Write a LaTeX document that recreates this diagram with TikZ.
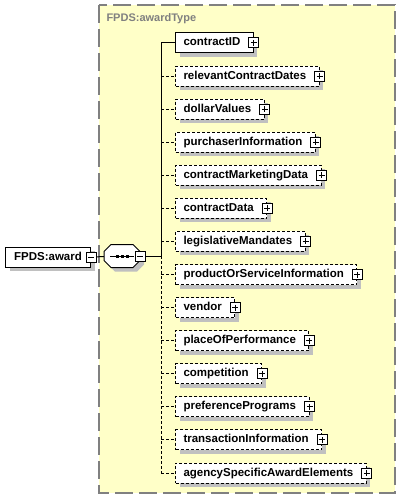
\documentclass[tikz,border=0pt]{standalone}
\usepackage{fontspec}
\setmainfont{Liberation Sans}
\usetikzlibrary{shadows}
\definecolor{fondo}{RGB}{255,255,200}
\definecolor{borde}{RGB}{128,128,128}
\definecolor{sombra}{RGB}{192,192,192}
\tikzset{
  sombreado/.style={drop shadow={shadow xshift=4pt, shadow yshift=-4pt, fill=sombra, opacity=1}},
  caja/.style={draw, fill=white, line width=1pt, inner ysep=0pt, minimum height=20pt,
    text height=8.5pt, text depth=2.5pt, font=\fontsize{11.5}{12}\selectfont\bfseries, sombreado},
  elem/.style={caja, anchor=west, inner xsep=8pt, execute at end node={\hspace*{5pt}}},
  opcional/.style={elem, dash pattern=on 3pt off 2pt},
  icono/.style={draw, fill=white, line width=1pt, minimum size=10pt, inner sep=0pt},
  menos/.style={icono, path picture={
    \draw ([xshift=2pt]path picture bounding box.west) -- ([xshift=-2pt]path picture bounding box.east);}},
  mas/.style={icono, path picture={
    \draw ([xshift=2pt]path picture bounding box.west) -- ([xshift=-2pt]path picture bounding box.east);
    \draw ([yshift=-2pt]path picture bounding box.north) -- ([yshift=2pt]path picture bounding box.south);}},
  rayas/.style={dash pattern=on 3pt off 2pt}
}
\begin{document}
\begin{tikzpicture}[x=1pt, y=-1pt, line width=1pt]
    \useasboundingbox (0,0) rectangle (401,500);
    % Tipo complejo (fondo amarillo)
    \draw[borde, fill=fondo, line width=2pt, dash pattern=on 18pt off 6pt] (99,5) rectangle (395,493);
    \node[anchor=west, inner sep=0pt, text=borde, font=\fontsize{11}{12}\selectfont\bfseries] (tipo) at (106,19) {FPDS:awardType};
    % Elemento raiz
    \node[caja, anchor=west, minimum width=85pt, inner xsep=0pt] (award) at (5,257) {FPDS:award};
    \node[menos] (awardmenos) at (award.east) {};
    % Compositor de secuencia (octogono)
    \node[minimum width=35pt, minimum height=22pt, inner sep=0pt] (seq) at (122,256) {};
    \draw[fill=white, sombreado] ([xshift=7pt]seq.north west) -- ([xshift=-7pt]seq.north east)
        -- ([yshift=-7pt]seq.north east) -- ([yshift=7pt]seq.south east)
        -- ([xshift=-7pt]seq.south east) -- ([xshift=7pt]seq.south west)
        -- ([yshift=7pt]seq.south west) -- ([yshift=-7pt]seq.north west) -- cycle;
    \draw (seq.center) +(-12,0) -- +(12,0);
    \foreach \dx in {-5,0,5} {
        \fill (seq.center) ++(\dx,0) +(-1.5,-1.5) rectangle +(1.5,1.5);
    }
    \node[menos] (seqmenos) at (seq.east) {};
    \draw (awardmenos) -- (seq);
    \coordinate (bus) at (161,256);
    \draw (seqmenos) -- (bus);
    % Elemento obligatorio
    \node[elem] (e1) at (175,43) {contractID};
    \node[mas] (e1mas) at (e1.east) {};
    \draw (bus) -- (bus |- e1.west) -- (e1.west);
    % Elementos opcionales
    \foreach \nombre [count=\k from 2] in {relevantContractDates, dollarValues, purchaserInformation,
        contractMarketingData, contractData, legislativeMandates, productOrServiceInformation, vendor,
        placeOfPerformance, competition, preferencePrograms, transactionInformation,
        agencySpecificAwardElements} {
        \node[opcional] (e\k) at (175,{43+33.08*(\k-1)}) {\nombre};
        \node[mas] (e\k mas) at (e\k.east) {};
        \draw[rayas] (bus |- e\k.west) -- (e\k.west);
    }
    \draw[rayas] (bus) -- (bus |- e14.west);
\end{tikzpicture}
\end{document}
